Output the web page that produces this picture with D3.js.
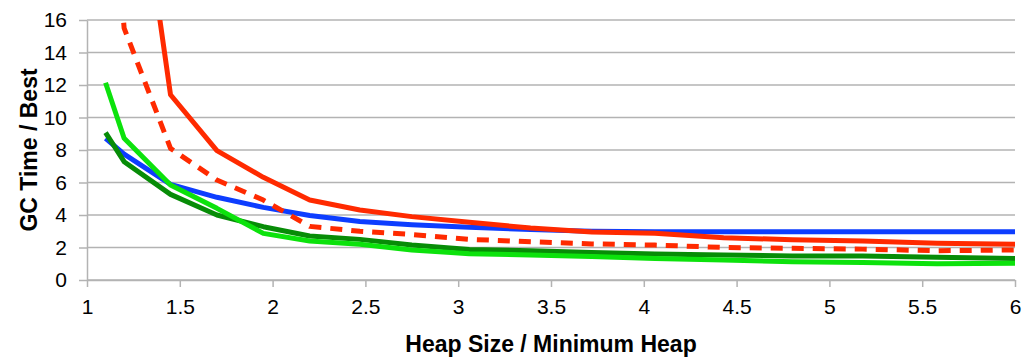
<!DOCTYPE html>
<html>
<head>
<meta charset="utf-8">
<script src="https://d3js.org/d3.v7.min.js"></script>
<style>
  body { margin: 0; background: #fff; }
  text { font-family: "Liberation Sans", Arial, sans-serif; }
</style>
</head>
<body>
<div id="chart"></div>
<script>

// heap size multiples (x values)
var heapSizes = [1.1, 1.2, 1.45, 1.7, 1.95, 2.2, 2.47, 2.75, 3.06, 3.39, 3.72, 4.06, 4.43, 4.8, 5.18, 5.58, 6.0];

// GC time relative to best, one array per collector
var blueSeries     = [8.72, 7.75, 5.89, 5.09, 4.47, 3.97, 3.6, 3.4, 3.24, 3.1, 3.0, 2.97, 2.97, 2.97, 2.97, 2.97, 2.97];
var redSeries      = [40, 31.5, 11.4, 7.96, 6.32, 4.92, 4.31, 3.9, 3.55, 3.2, 2.95, 2.87, 2.6, 2.48, 2.4, 2.26, 2.2];
var redDashSeries  = [30, 15.5, 8.1, 6.15, 4.92, 3.3, 3.0, 2.8, 2.5, 2.36, 2.22, 2.15, 2.0, 1.95, 1.9, 1.8, 1.85];
var darkGreenSeries  = [9.07, 7.28, 5.27, 4.0, 3.28, 2.71, 2.5, 2.15, 1.88, 1.8, 1.7, 1.6, 1.54, 1.48, 1.48, 1.4, 1.33];
var lightGreenSeries = [12.14, 8.72, 5.85, 4.41, 2.87, 2.4, 2.2, 1.85, 1.62, 1.54, 1.44, 1.33, 1.23, 1.13, 1.07, 1.0, 1.03];

var xTicks = [1, 1.5, 2, 2.5, 3, 3.5, 4, 4.5, 5, 5.5, 6];
var yTicks = [0, 2, 4, 6, 8, 10, 12, 14, 16];

var margin = {top: 20, right: 9, bottom: 78, left: 87},
    width = 1024 - margin.left - margin.right,
    height = 358 - margin.top - margin.bottom;

var svg = d3.select("#chart")
  .append("svg")
    .attr("width", 1024)
    .attr("height", 358)
  .append("g")
    .attr("transform", "translate(" + margin.left + "," + margin.top + ")");

var x = d3.scaleLinear().domain([1, 6]).range([0, width]);
var y = d3.scaleLinear().domain([0, 16]).range([height, 0]);

// horizontal gridlines
svg.append("g")
  .selectAll("line")
  .data(yTicks)
  .enter().append("line")
    .attr("x1", 0)
    .attr("x2", width)
    .attr("y1", function(d) { return y(d); })
    .attr("y2", function(d) { return y(d); })
    .attr("stroke", "#b3b3b3")
    .attr("stroke-width", 1.5);

// X axis
var xAxis = svg.append("g")
  .attr("transform", "translate(0," + height + ")")
  .call(d3.axisBottom(x).tickValues(xTicks).tickSize(7).tickSizeOuter(0)
    .tickFormat(function(d) { return d; }));
xAxis.selectAll("line").attr("stroke", "#b3b3b3").attr("stroke-width", 1.5);
xAxis.select(".domain").attr("stroke", "#b3b3b3").attr("stroke-width", 1.5);
xAxis.selectAll("text")
  .attr("y", 19)
  .style("font-size", "21px")
  .style("fill", "#000");

// Y axis
var yAxis = svg.append("g")
  .call(d3.axisLeft(y).tickValues(yTicks).tickSize(8).tickSizeOuter(0));
yAxis.selectAll("line").attr("stroke", "#b3b3b3").attr("stroke-width", 1.5);
yAxis.select(".domain").attr("stroke", "#b3b3b3").attr("stroke-width", 1.5);
yAxis.selectAll("text")
  .attr("x", -20)
  .style("font-size", "21px")
  .style("fill", "#000");

// clip lines to plot area
svg.append("clipPath").attr("id", "plotclip")
  .append("rect")
    .attr("x", 0).attr("y", 0)
    .attr("width", width).attr("height", height);

var line = d3.line()
  .x(function(d, i) { return x(heapSizes[i]); })
  .y(function(d) { return y(d); });

var series = [
  {values: blueSeries, color: "#0d3dff", dash: null},
  {values: darkGreenSeries, color: "#078c07", dash: null},
  {values: lightGreenSeries, color: "#0ce20c", dash: null},
  {values: redDashSeries, color: "#ff2a00", dash: "12,9"},
  {values: redSeries, color: "#ff2a00", dash: null}
];

svg.append("g")
  .attr("clip-path", "url(#plotclip)")
  .selectAll("path")
  .data(series)
  .enter().append("path")
    .attr("d", function(d) { return line(d.values); })
    .attr("fill", "none")
    .attr("stroke", function(d) { return d.color; })
    .attr("stroke-width", 5)
    .attr("stroke-linejoin", "round")
    .attr("stroke-dasharray", function(d) { return d.dash; });

// axis titles
svg.append("text")
  .attr("x", width / 2)
  .attr("y", height + 72)
  .attr("text-anchor", "middle")
  .style("font-size", "23px")
  .style("font-weight", "bold")
  .text("Heap Size / Minimum Heap");

svg.append("text")
  .attr("transform", "translate(" + (-50) + "," + (height / 2) + ")rotate(-90)")
  .attr("text-anchor", "middle")
  .style("font-size", "23px")
  .style("font-weight", "bold")
  .text("GC Time / Best");

</script>
</body>
</html>
